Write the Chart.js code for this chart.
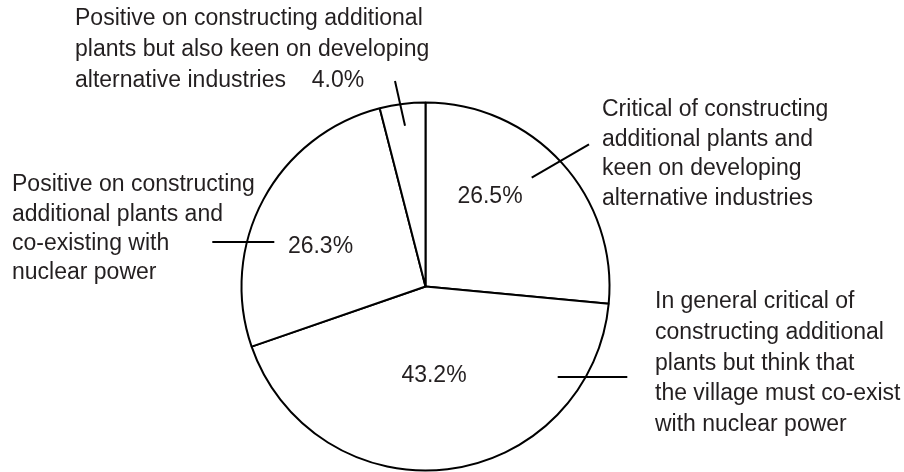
<html>
<head>
<meta charset="utf-8">
<script src="https://cdn.jsdelivr.net/npm/chart.js@4"></script>
<style>
  body { margin: 0; background: #fff; }
  canvas { display: block; }
</style>
</head>
<body>
<canvas id="pie" width="904" height="472"></canvas>
<script>
// survey answers, clockwise from 12 o'clock
const categories = [
  ['Critical of constructing', 'additional plants and', 'keen on developing', 'alternative industries'],
  ['In general critical of', 'constructing additional', 'plants but think that', 'the village must co-exist', 'with nuclear power'],
  ['Positive on constructing', 'additional plants and', 'co-existing with', 'nuclear power'],
  ['Positive on constructing additional', 'plants but also keen on developing', 'alternative industries']
];
const shares = [26.5, 43.2, 26.3, 4.0];

// label placement, offsets from the pie centre (px)
const pctPos = [[64.5, -89.5], [8.5, 89.5], [-105, -39.5], [-87.5, -205.5]];
const leaders = [
  [106.2, -108.8, 163.5, -142.2],
  [132.2, 90.5, 201.8, 90.5],
  [-213.2, -44.5, -151.2, -44.5],
  [-30.5, -205.5, -20.5, -160.8]
];
const textPos = [[176.5, -176.5, 29.5], [229.5, 15.5, 30.7], [-413.5, -101.5, 29.3], [-350.5, -267.5, 31]];

const FONT = '23px "Liberation Sans", Arial, Helvetica, sans-serif';
const INK = '#231f20';

const labels = {
  id: 'labels',
  afterDraw(chart) {
    const ctx = chart.ctx;
    const arcs = chart.getDatasetMeta(0).data;
    const cx = arcs[0].x, cy = arcs[0].y;
    ctx.save();
    ctx.font = FONT;
    ctx.fillStyle = INK;
    ctx.textBaseline = 'middle';

    arcs.forEach((arc, i) => {
      const v = chart.data.datasets[0].data[i];
      // value
      ctx.textAlign = 'center';
      ctx.fillText(v.toFixed(1) + '%', cx + pctPos[i][0], cy + pctPos[i][1]);

      // leader line
      const l = leaders[i];
      ctx.strokeStyle = '#000';
      ctx.lineWidth = 2;
      ctx.beginPath();
      ctx.moveTo(cx + l[0], cy + l[1]);
      ctx.lineTo(cx + l[2], cy + l[3]);
      ctx.stroke();

      // category text
      ctx.textAlign = 'left';
      const [tx, ty, lh] = textPos[i];
      chart.data.labels[i].forEach((line, k) => {
        ctx.fillText(line, cx + tx, cy + ty + k * lh);
      });
    });
    ctx.restore();
  }
};

new Chart(document.getElementById('pie'), {
  type: 'pie',
  data: {
    labels: categories,
    datasets: [{
      data: shares,
      backgroundColor: '#ffffff',
      borderColor: '#000000',
      borderWidth: 2,
      radius: 184
    }]
  },
  options: {
    responsive: false,
    animation: false,
    layout: { padding: { left: 0, right: 53, top: 101, bottom: 0 } },
    plugins: {
      legend: { display: false },
      tooltip: { enabled: false }
    }
  },
  plugins: [labels]
});
</script>
</body>
</html>
